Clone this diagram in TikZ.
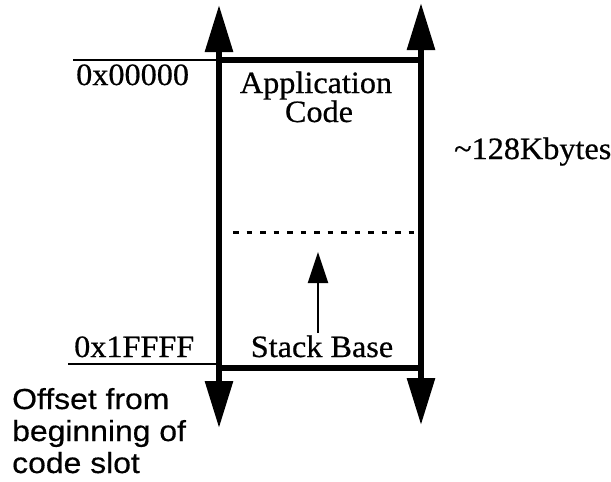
\documentclass[tikz,border=0pt]{standalone}
\usepackage{fontspec}
\setmainfont[FakeStretch=1.04,FakeBold=0.6]{Liberation Serif}
\newfontfamily\lblsans[FakeStretch=1.1,FakeBold=0.5]{Liberation Sans}
\usetikzlibrary{arrows.meta}
\tikzset{
  bigtip/.tip={Triangle[width=27pt,length=47pt]},
  axisline/.style={line width=6pt,{bigtip}-{bigtip}},
  barline/.style={line width=5.5pt},
  tickline/.style={line width=1.6pt},
  dashline/.style={line width=3pt,dash pattern=on 5.5pt off 8pt},
  growarrow/.style={line width=2.2pt,-{Triangle[width=20pt,length=31pt]}},
  serif/.style={font=\fontsize{31}{32}\selectfont,inner sep=0pt},
  sans/.style={font=\lblsans\fontsize{29}{32}\selectfont,inner sep=0pt},
}
\begin{document}
\begin{tikzpicture}[x=1pt,y=-1pt]
\useasboundingbox (0,0) rectangle (611,482);
% axes
\coordinate (LT) at (219,5);
\coordinate (LB) at (219,428);
\coordinate (RT) at (421,3);
\coordinate (RB) at (421,425);
\draw[axisline] (LB) -- (LT);
\draw[axisline] (RB) -- (RT);
% box edges
\coordinate (TL) at (219,60);
\coordinate (TR) at (421,60);
\coordinate (BL) at (219,368);
\coordinate (BR) at (421,368);
\draw[barline] (TL) -- (TR);
\draw[barline] (BL) -- (BR);
% tick lines
\coordinate (T0) at (73,60);
\coordinate (B0) at (68,364);
\coordinate (B1) at (216,364);
\draw[tickline] (T0) -- (TL);
\draw[tickline] (B0) -- (B1);
% dashed stack limit
\coordinate (D0) at (233,232);
\coordinate (D1) at (418,232);
\draw[dashline] (D0) -- (D1);
% stack growth arrow
\coordinate (S0) at (318,333);
\coordinate (S1) at (318,252);
\draw[growarrow] (S0) -- (S1);
% labels
\node[serif,anchor=base west] (a0) at (76,85) {0x00000};
\node[serif,anchor=base west] (a1) at (74,357) {0x1FFFF};
\node[serif,anchor=base] (app) at (316,93) {Application};
\node[serif,anchor=base] (code) at (319,122) {Code};
\node[serif,anchor=base] (stk) at (322,357) {Stack Base};
\node[serif,anchor=base west] (size) at (454,159) {\textasciitilde 128Kbytes};
\node[sans,anchor=base west] (o1) at (12,409) {Offset from};
\node[sans,anchor=base west] (o2) at (12,441) {beginning of};
\node[sans,anchor=base west] (o3) at (12,473) {code slot};
\end{tikzpicture}
\end{document}
